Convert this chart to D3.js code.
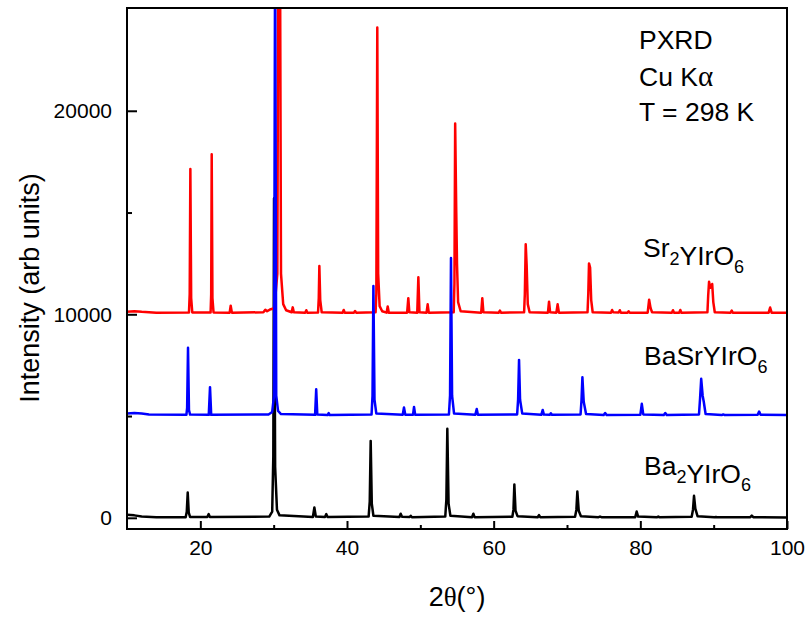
<!DOCTYPE html>
<html>
<head>
<meta charset="utf-8">
<script src="https://cdn.jsdelivr.net/npm/d3@7/dist/d3.min.js"></script>
<style>
	body { margin: 0; background: #fff; }
	text { font-family: "Liberation Sans", Arial, sans-serif; fill: #000; }
</style>
</head>
<body>
<svg id="chart" width="809" height="620"></svg>
<script>
(function(){
	'use strict';

	// points: [2theta, intensity]
	var ba2Points = [
		[10,150],[11,120],[12,60],[14,30],[18.0,30],[18.15,300],[18.28,1240],[18.42,250],[18.6,40],
		[20.95,40],[21.14,180],[21.3,40],
		[29.4,60],[29.8,300],[29.95,3000],[30.05,15700],[30.2,2500],[30.45,400],[30.8,120],
		[35.35,40],[35.55,510],[35.75,60],
		[37.0,40],[37.18,180],[37.35,40],
		[42.95,60],[43.1,800],[43.23,3780],[43.38,700],[43.6,100],
		[47.15,40],[47.32,200],[47.5,50],[48.55,40],[48.69,100],[48.85,30],
		[53.4,60],[53.55,900],[53.68,4370],[53.85,700],[54.1,100],
		[57.05,30],[57.23,200],[57.4,30],
		[62.55,50],[62.7,400],[62.82,1640],[62.98,350],[63.25,80],
		[66.0,30],[66.18,130],[66.35,30],
		[71.1,50],[71.28,400],[71.41,1290],[71.6,350],[71.9,80],
		[74.3,30],[74.5,60],[74.7,30],
		[79.3,30],[79.5,310],[79.7,60],
		[82.3,30],[82.45,60],[82.6,30],
		[87.0,50],[87.18,400],[87.32,1080],[87.5,450],[87.8,80],
		[90.1,30],[90.3,40],[90.5,30],
		[95.0,30],[95.2,110],[95.4,30],[100,20]];

	var basrPoints = [
		[10,5130],[11,5150],[12,5120],[13,5080],[18.1,5060],[18.2,5400],[18.32,8360],[18.45,5300],[18.6,5070],
		[21.15,5060],[21.32,6420],[21.48,5060],
		[29.3,5080],[29.8,5200],[30.05,6000],[30.2,29000],[30.35,6000],[30.6,5250],[31,5100],
		[35.65,5060],[35.8,6320],[35.95,5070],
		[37.35,5050],[37.5,5150],[37.65,5050],
		[43.35,5080],[43.48,6000],[43.6,11390],[43.75,5800],[44.0,5120],
		[47.6,5060],[47.77,5420],[47.95,5060],[49.0,5060],[49.14,5450],[49.3,5060],
		[53.9,5080],[54.05,6000],[54.18,12770],[54.33,6000],[54.6,5120],
		[57.5,5060],[57.69,5350],[57.85,5060],
		[63.2,5080],[63.33,5800],[63.46,7760],[63.6,5800],[63.9,5120],
		[66.5,5060],[66.69,5300],[66.85,5070],[67.65,5060],[67.8,5140],[67.95,5060],
		[71.85,5080],[71.98,5800],[72.1,6910],[72.28,5700],[72.6,5100],
		[75.0,5050],[75.2,5150],[75.4,5050],
		[80.0,5060],[80.2,5600],[80.4,5080],
		[83.2,5050],[83.4,5150],[83.6,5050],
		[88.0,5080],[88.15,5900],[88.3,6830],[88.5,6000],[88.65,5700],[88.9,5100],
		[91.1,5050],[91.3,5080],[91.5,5050],
		[96.0,5060],[96.2,5220],[96.4,5060],[100,5050]];

	var sr2Points = [
		[10,10130],[11,10150],[12,10120],[14,10080],[18.45,10090],[18.55,11000],[18.64,17140],[18.75,10800],[18.9,10090],
		[21.4,10090],[21.48,11000],[21.55,17860],[21.65,10800],[21.8,10090],
		[24.0,10080],[24.14,10420],[24.3,10080],
		[28.6,10100],[28.86,10220],[29.1,10150],[29.6,10250],[30.1,10300],[30.5,12000],[30.65,30000],[30.85,30000],[31.0,12000],[31.3,10500],[31.7,10200],
		[32.45,10100],[32.6,10340],[32.75,10100],
		[34.3,10080],[34.45,10200],[34.6,10080],
		[36.05,10090],[36.15,10800],[36.23,12370],[36.35,10700],[36.55,10100],
		[39.4,10080],[39.55,10210],[39.7,10080],[40.95,10080],[41.1,10160],[41.25,10080],
		[43.9,10100],[44.0,11000],[44.13,24090],[44.25,12000],[44.45,10400],[44.8,10150],
		[45.4,10080],[45.55,10380],[45.7,10080],
		[48.2,10080],[48.36,10790],[48.5,10100],
		[49.58,10080],[49.73,11820],[49.88,10100],
		[50.85,10080],[51.0,10490],[51.15,10080],
		[54.55,10100],[54.65,11500],[54.75,19380],[54.9,15000],[55.0,12500],[55.15,10600],[55.5,10150],
		[58.3,10080],[58.45,10790],[58.6,10100],
		[60.7,10080],[60.85,10180],[61.0,10080],
		[64.15,10100],[64.25,11000],[64.37,13440],[64.5,12400],[64.65,10500],[64.9,10100],
		[67.4,10080],[67.55,10620],[67.7,10100],[68.55,10080],[68.72,10490],[68.9,10080],
		[72.8,10100],[72.9,11000],[73.0,12500],[73.15,12300],[73.3,10700],[73.5,10100],
		[76.0,10080],[76.15,10210],[76.3,10100],[77.05,10090],[77.2,10200],[77.35,10080],
		[78.25,10080],[78.4,10150],[78.55,10080],
		[81.0,10080],[81.2,10720],[81.4,10300],[81.6,10100],
		[84.3,10080],[84.45,10200],[84.6,10080],[85.3,10080],[85.45,10210],[85.6,10080],
		[89.15,10100],[89.25,10900],[89.37,11600],[89.55,11300],[89.8,11490],[89.95,10600],[90.15,10100],
		[92.3,10080],[92.46,10180],[92.6,10080],
		[97.5,10080],[97.7,10330],[97.9,10080],[100,10080]];

	var xTicks = [20, 40, 60, 80, 100];
	var xMinorTicks = [30, 50, 70, 90];
	var yTicks = [0, 10000, 20000];
	var yMinorTicks = [5000, 15000];

	var traces = [
		{name: 'Ba2YIrO6', color: '#000000', points: ba2Points},
		{name: 'Sr2YIrO6', color: '#ff0000', points: sr2Points},
		{name: 'BaSrYIrO6', color: '#0000ff', points: basrPoints}];

	var plot = {left: 127, right: 787, top: 8, bottom: 529};

	var svg = d3.select('#chart');

	var x = d3.scaleLinear().domain([10, 100]).range([plot.left, plot.right]);
	var y = d3.scaleLinear().domain([-550, 25050]).range([plot.bottom, plot.top]);

	svg.append('defs').append('clipPath').attr('id', 'plot-clip')
		.append('rect')
		.attr('x', plot.left).attr('y', plot.top)
		.attr('width', plot.right - plot.left).attr('height', plot.bottom - plot.top);

	var line = d3.line()
		.x(function(d) {return x(d[0]);})
		.y(function(d) {return y(d[1]);});

	svg.append('g').attr('clip-path', 'url(#plot-clip)')
		.selectAll('path').data(traces)
		.enter().append('path')
		.attr('d', function(d) {return line(d.points);})
		.attr('fill', 'none')
		.attr('stroke', function(d) {return d.color;})
		.attr('stroke-width', 2.5)
		.attr('stroke-linejoin', 'round');

	// axes, ticks pointing inward
	svg.append('g')
		.attr('transform', 'translate(0,' + plot.bottom + ')')
		.call(d3.axisBottom(x).tickValues(xTicks).tickSize(-8).tickPadding(11));
	svg.append('g')
		.attr('transform', 'translate(0,' + plot.bottom + ')')
		.call(d3.axisBottom(x).tickValues(xMinorTicks).tickSize(-4).tickFormat(''));

	svg.append('g')
		.attr('transform', 'translate(' + plot.left + ',0)')
		.call(d3.axisLeft(y).tickValues(yTicks).tickSize(-10).tickPadding(15).tickFormat(d3.format('d')));
	svg.append('g')
		.attr('transform', 'translate(' + plot.left + ',0)')
		.call(d3.axisLeft(y).tickValues(yMinorTicks).tickSize(-5).tickFormat(''));

	svg.selectAll('.domain').remove();
	svg.selectAll('.tick line').attr('stroke', '#000').attr('stroke-width', 2);
	svg.selectAll('.tick text')
		.style('font-family', '"Liberation Sans", Arial, sans-serif')
		.style('font-size', '21px');

	svg.append('rect')
		.attr('x', plot.left).attr('y', plot.top)
		.attr('width', plot.right - plot.left).attr('height', plot.bottom - plot.top)
		.attr('fill', 'none').attr('stroke', '#000').attr('stroke-width', 2);

	// axis titles
	var xTitle = svg.append('text')
		.attr('x', 457).attr('y', 606)
		.attr('text-anchor', 'middle')
		.style('font-size', '27px');
	xTitle.append('tspan').text('2');
	xTitle.append('tspan').style('font-family', '"Liberation Serif", serif').text('θ');
	xTitle.append('tspan').text('(°)');

	svg.append('text')
		.attr('transform', 'translate(39,288) rotate(-90)')
		.attr('text-anchor', 'middle')
		.style('font-size', '27px')
		.text('Intensity (arb units)');

	// annotations
	var info = svg.append('g').style('font-size', '26.5px');
	info.append('text').attr('x', 639).attr('y', 49).text('PXRD');
	var cu = info.append('text').attr('x', 639).attr('y', 86);
	cu.append('tspan').text('Cu K');
	cu.append('tspan').style('font-family', '"Liberation Serif", serif').style('font-size', '29px').text('α');
	info.append('text').attr('x', 639).attr('y', 121).text('T = 298 K');

	function formula(xPos, yPos, parts) {
		var t = svg.append('text')
			.attr('x', xPos).attr('y', yPos)
			.style('font-size', '26.5px');
		parts.forEach(function(p) {
			if (p.sub) {
				t.append('tspan').attr('dy', 8).style('font-size', '18px').text(p.sub);
				t.append('tspan').attr('dy', -8).text('');}
			else {
				t.append('tspan').text(p.text);}});
	}

	formula(643, 257, [{text: 'Sr'}, {sub: '2'}, {text: 'YIrO'}, {sub: '6'}]);
	formula(644, 365, [{text: 'BaSrYIrO'}, {sub: '6'}]);
	formula(644, 475, [{text: 'Ba'}, {sub: '2'}, {text: 'YIrO'}, {sub: '6'}]);
})();
</script>
</body>
</html>
